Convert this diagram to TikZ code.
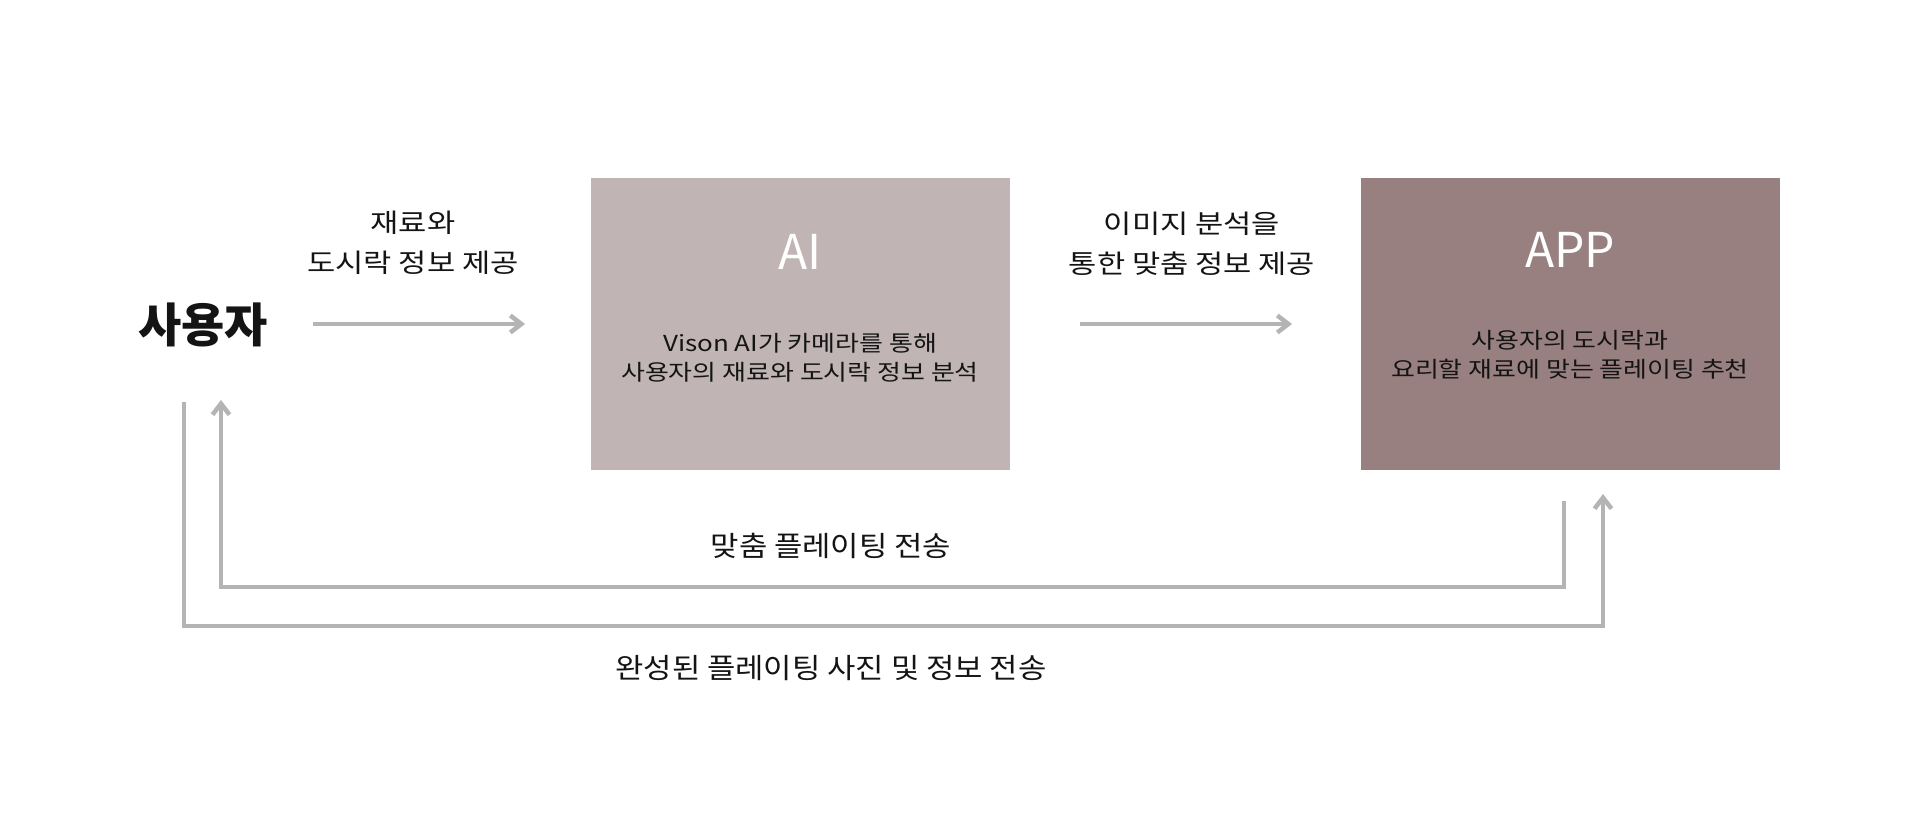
\documentclass[tikz,border=0pt]{standalone}
\usepackage{fontspec}
\setmainfont{Noto Sans CJK KR}
\newfontfamily\widefont[FakeStretch=1.18]{Noto Sans CJK KR}
\newfontfamily\midfont[FakeStretch=1.1]{Noto Sans CJK KR}
\usetikzlibrary{arrows.meta}
\definecolor{aibox}{RGB}{192,180,180}
\definecolor{appbox}{RGB}{152,128,128}
\definecolor{conn}{RGB}{180,180,180}
\definecolor{txt}{RGB}{20,20,20}
\begin{document}
\begin{tikzpicture}[x=1pt,y=-1pt,
  boxnode/.style={minimum width=419pt,minimum height=292pt,inner sep=0pt,draw=none},
  titlenode/.style={text=white,font=\fontsize{48}{52}\selectfont},
  subnode/.style={text=txt,align=center,font=\widefont\fontsize{22}{29}\selectfont},
  lblnode/.style={text=txt,align=center,font=\widefont\fontsize{26}{40}\selectfont},
  bottomlbl/.style={text=txt,font=\midfont\fontsize{28}{34}\selectfont},
  connector/.style={draw=conn,line width=4.5pt,line join=miter,line cap=butt,
    -{Straight Barb[length=11pt,width=17pt,line width=4.5pt]}}]
\useasboundingbox (0,0) rectangle (1920,826);
\fill[white] (0,0) rectangle (1920,826);

\node[text=txt,font=\fontsize{47}{52}\selectfont\bfseries] (user) at (203,325) {사용자};

\node[boxnode,fill=aibox] (ai) at (800.5,324) {};
\node[titlenode] (aititle) at (800,252) {AI};
\node[subnode] (aisub) at (800,358) {Vison AI가 카메라를 통해\\사용자의 재료와 도시락 정보 분석};

\node[boxnode,fill=appbox] (app) at (1570.5,324) {};
\node[titlenode] (apptitle) at (1570,250) {APP};
\node[subnode] (appsub) at (1570,355) {사용자의 도시락과\\요리할 재료에 맞는 플레이팅 추천};

\node[lblnode] (lbl1) at (413,243) {재료와\\도시락 정보 제공};
\node[lblnode] (lbl2) at (1192,244) {이미지 분석을\\통한 맞춤 정보 제공};

\coordinate (a1s) at (313,324);
\coordinate (a1e) at (525,324);
\coordinate (a2s) at (1080,324);
\coordinate (a2e) at (1292,324);
\draw[connector] (a1s) -- (a1e);
\draw[connector] (a2s) -- (a2e);

% inner: APP -> user
\coordinate (in1) at (1564,501);
\coordinate (in2) at (221,400);
\draw[connector] (in1) -- (1564,587) -- (221,587) -- (in2);
% outer: user -> APP
\coordinate (out1) at (184,402);
\coordinate (out2) at (1603,494);
\draw[connector] (out1) -- (184,626) -- (1603,626) -- (out2);

\node[bottomlbl] (blbl1) at (831,546) {맞춤 플레이팅 전송};
\node[bottomlbl] (blbl2) at (831,668) {완성된 플레이팅 사진 및 정보 전송};
\end{tikzpicture}
\end{document}
